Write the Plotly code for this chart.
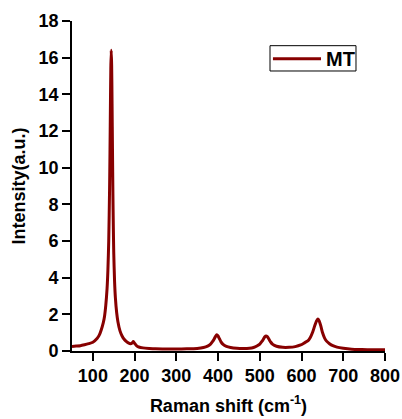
import plotly.graph_objects as go

# Raman spectrum of sample MT
raman_shift = [50, 60, 70, 80, 90, 100, 110, 115, 120, 125, 128, 131, 134, 136, 138,
               140, 141, 142, 143, 144, 145, 146, 147, 148, 149, 150, 152, 154, 157,
               160, 165, 170, 175, 180, 185, 190, 194, 197, 200, 205, 210, 220, 235,
               250, 275, 300, 325, 350, 365, 375, 382, 387, 391, 394, 397, 400, 403,
               407, 412, 420, 430, 445, 460, 475, 485, 493, 500, 505, 509, 512, 515,
               518, 522, 526, 531, 540, 555, 570, 585, 598, 608, 615, 621, 627, 632,
               636, 639, 642, 646, 650, 655, 660, 667, 675, 685, 700, 720, 745, 770, 800]
intensity = [0.25, 0.27, 0.29, 0.34, 0.40, 0.48, 0.68, 0.85, 1.15, 1.55, 1.9, 2.5, 3.4, 4.4, 6.0,
             8.8, 10.8, 13.2, 15.4, 16.4, 15.6, 13.5, 11.0, 8.6, 6.8, 5.4, 3.8, 2.9, 2.1,
             1.6, 1.1, 0.82, 0.64, 0.52, 0.44, 0.40, 0.44, 0.52, 0.42, 0.28, 0.22, 0.17, 0.14,
             0.12, 0.11, 0.11, 0.12, 0.14, 0.19, 0.27, 0.38, 0.52, 0.67, 0.80, 0.88, 0.82, 0.68,
             0.50, 0.36, 0.25, 0.19, 0.15, 0.14, 0.15, 0.19, 0.27, 0.38, 0.52, 0.66, 0.77, 0.82,
             0.78, 0.64, 0.49, 0.36, 0.26, 0.20, 0.20, 0.24, 0.33, 0.46, 0.55, 0.74, 1.05, 1.40,
             1.64, 1.75, 1.66, 1.38, 1.02, 0.72, 0.54, 0.40, 0.29, 0.21, 0.15, 0.10, 0.08, 0.07, 0.07]
series_name = "MT"

x_ticks = [100, 200, 300, 400, 500, 600, 700, 800]
y_ticks = [0, 2, 4, 6, 8, 10, 12, 14, 16, 18]

LINE_COLOR = "#870000"
FONT = "Liberation Sans, Arial, sans-serif"
TITLE_FONT = dict(family=FONT, size=18, color="black", weight="bold")

fig = go.Figure()
fig.add_trace(go.Scatter(
    x=raman_shift, y=intensity, mode="lines", name=series_name,
    line=dict(color=LINE_COLOR, width=3, shape="spline", smoothing=0.6),
    showlegend=False,
))

axis_common = dict(
    showline=True, linecolor="black", linewidth=1.7, mirror=False,
    ticks="outside", ticklen=8, tickwidth=1.6, tickcolor="black",
    showgrid=False, zeroline=False, automargin=False,
    tickfont=dict(family=FONT, size=18, color="black", weight="bold"),
)

frame_common = dict(
    range=[0, 10], tickvals=list(range(11)), showticklabels=False,
    showline=True, linecolor="black", linewidth=1.7,
    ticks="outside", ticklen=2, tickwidth=1.4, tickcolor="black",
    showgrid=False, zeroline=False, automargin=False,
)

fig.update_layout(
    width=402, height=419,
    margin=dict(l=72, r=17, t=21, b=68, autoexpand=False),
    paper_bgcolor="white", plot_bgcolor="white",
    xaxis=dict(range=[50, 800], tickvals=x_ticks,
               title=dict(text="Raman shift (cm<sup>-1</sup>)", standoff=14, font=TITLE_FONT),
               **axis_common),
    yaxis=dict(range=[0, 18], tickvals=y_ticks,
               title=dict(text="Intensity(a.u.)", standoff=8, font=TITLE_FONT),
               **axis_common),
    # frame axes on top and right with plain evenly spaced ticks
    xaxis2=dict(overlaying="x", side="top", anchor="y", **frame_common),
    yaxis2=dict(overlaying="y", side="right", anchor="x", **frame_common),
)

# legend box with a line sample and the series name
fig.add_shape(type="rect", xref="paper", yref="paper",
              x0=0.6326, x1=0.9073, y0=0.8485, y1=0.9252,
              line=dict(color="black", width=1), fillcolor="white", layer="above")
fig.add_shape(type="line", xref="paper", yref="paper",
              x0=0.642, x1=0.7955, y0=0.8855, y1=0.8855,
              line=dict(color=LINE_COLOR, width=3), layer="above")
fig.add_annotation(xref="paper", yref="paper", x=0.806, y=0.8855,
                   xanchor="left", yanchor="middle", showarrow=False,
                   text=series_name,
                   font=dict(family=FONT, size=20, color="black", weight="bold"))

fig.write_html("out.html")
